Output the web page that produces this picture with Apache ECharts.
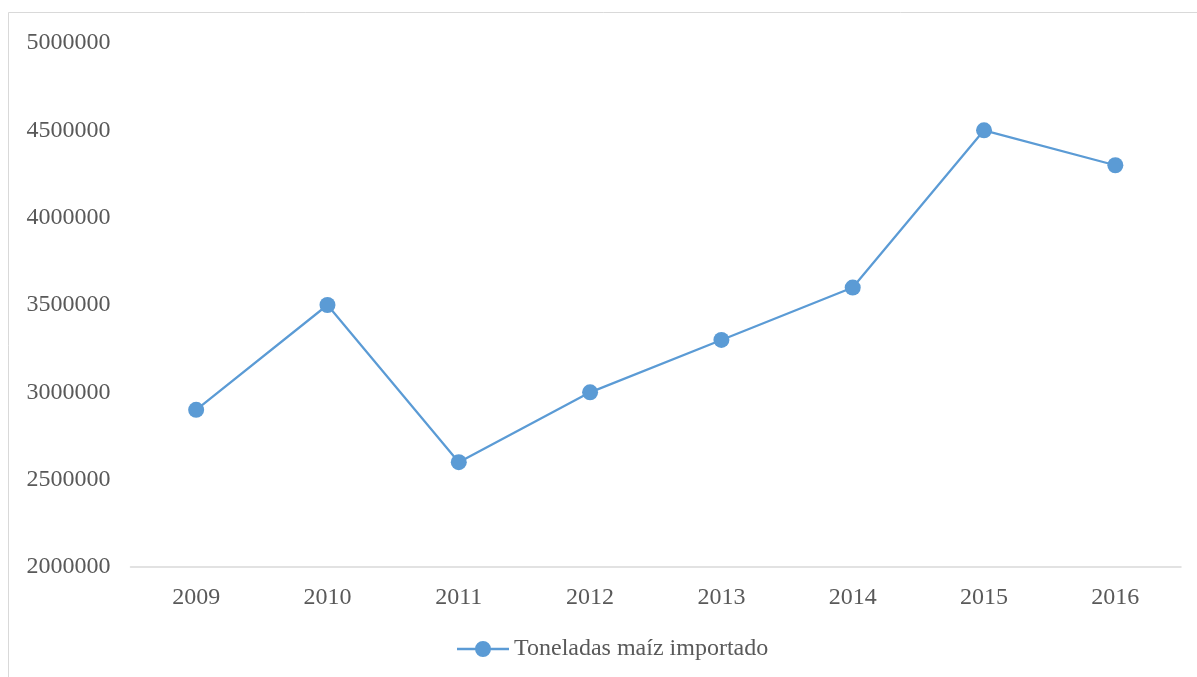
<!DOCTYPE html>
<html>
<head>
<meta charset="utf-8">
<script src="https://cdn.jsdelivr.net/npm/echarts@6/dist/echarts.min.js"></script>
<style>
  html, body { margin: 0; padding: 0; background: #fff; }
  #chart { width: 1197px; height: 677px; }
</style>
</head>
<body>
<div id="chart"></div>
<script>
// Maíz importado por año (toneladas)
const years = ['2009', '2010', '2011', '2012', '2013', '2014', '2015', '2016'];
const toneladas = [2900000, 3500000, 2600000, 3000000, 3300000, 3600000, 4500000, 4300000];
const seriesName = 'Toneladas maíz importado';

const FONT = '"Liberation Serif", "DejaVu Serif", serif';
const TEXT = '#595959';
const BLUE = '#5B9BD5';

// legend key: short line with a dot in the middle
const LINE_DOT_ICON = 'path://M0,6.8 L18.5,6.8 L18.5,9.2 L0,9.2 Z M33.5,6.8 L52,6.8 L52,9.2 L33.5,9.2 Z ' +
  'M18,8 A8,8 0 1,1 34,8 A8,8 0 1,1 18,8 Z';

const chart = echarts.init(document.getElementById('chart'), null, { renderer: 'canvas' });
chart.setOption({
  backgroundColor: '#fff',
  animation: false,
  graphic: [{
    type: 'rect',
    shape: { x: 8.5, y: 12.5, width: 1300, height: 800 },
    style: { fill: 'none', stroke: '#d9d9d9', lineWidth: 1 },
    silent: true,
    z: -1
  }],
  grid: { left: 130.5, right: 16, top: 43, bottom: 110, containLabel: false },
  xAxis: {
    type: 'category',
    data: years,
    boundaryGap: true,
    axisLine: { show: true, lineStyle: { color: '#d9d9d9', width: 1.5 } },
    axisTick: { show: false },
    axisLabel: { color: TEXT, fontFamily: FONT, fontSize: 24, margin: 19 }
  },
  yAxis: {
    type: 'value',
    min: 2000000,
    max: 5000000,
    interval: 500000,
    axisLine: { show: false },
    axisTick: { show: false },
    splitLine: { show: false },
    axisLabel: {
      color: TEXT, fontFamily: FONT, fontSize: 24, margin: 20,
      formatter: v => String(v)
    }
  },
  legend: {
    bottom: 16,
    left: 457,
    padding: 0,
    itemWidth: 52,
    itemHeight: 16,
    itemGap: 10,
    textStyle: { color: TEXT, fontFamily: FONT, fontSize: 24 },
    data: [{ name: seriesName, icon: LINE_DOT_ICON }]
  },
  series: [{
    name: seriesName,
    type: 'line',
    data: toneladas,
    symbol: 'circle',
    symbolSize: 16,
    lineStyle: { color: BLUE, width: 2.25 },
    itemStyle: { color: BLUE },
    emphasis: { disabled: true }
  }]
});
</script>
</body>
</html>
